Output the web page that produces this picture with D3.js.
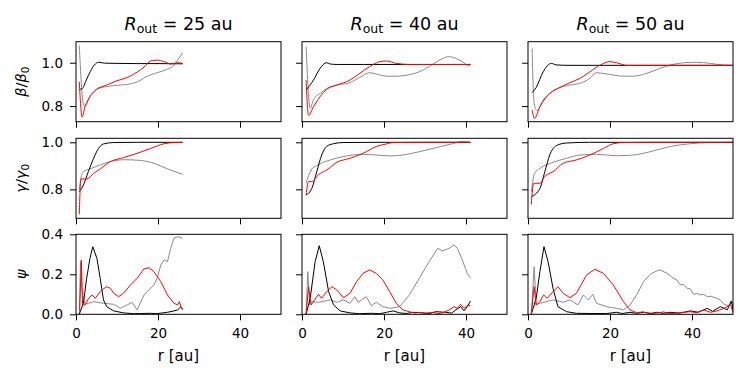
<!DOCTYPE html>
<html>
<head>
<meta charset="utf-8">
<script src="https://cdn.jsdelivr.net/npm/d3@7"></script>
<style>
  body { margin: 0; background: #fff; }
  svg { display: block; font-family: "DejaVu Sans", sans-serif; }
</style>
</head>
<body>
<svg id="chart" width="748" height="379"></svg>
<script>
// panel titles (R_out values) and axis ticks
const routValues = ["25", "40", "50"];
const xTicks = [0, 20, 40];
const betaTicks = [0.8, 1.0];
const gammaTicks = [0.8, 1.0];
const psiTicks = [0.0, 0.2, 0.4];

// beta / beta0, [r, value]
const beta25Black = [[0.8,0.877],[1.5,0.88],[2.5,0.92],[3.5,0.96],[4.5,0.99],[5.5,1.002],[7,0.998],[10,0.997],[15,0.996],[20,0.996],[26,0.995]];
const beta25Gray = [[0.8,1.08],[1.8,0.81],[2.2,0.80],[3.4,0.843],[5,0.877],[7.5,0.89],[10.8,0.897],[12.5,0.9],[15,0.912],[17.4,0.938],[19.8,0.954],[22.3,0.97],[23.5,0.982],[24.8,1.012],[26,1.046]];
const beta25Red = [[0.8,0.912],[1.5,0.75],[2.2,0.797],[3.4,0.843],[5,0.877],[7.5,0.897],[10,0.917],[12.5,0.932],[15,0.958],[16.6,0.98],[18.2,1.008],[19.8,1.012],[21.5,1.005],[23.1,0.994],[24.8,1.0],[26,0.997]];

const beta40Black = [[1,0.874],[2.8,0.92],[4.4,0.974],[6,1.0],[6.9,0.994],[8.5,0.992],[15,0.992],[25,0.992],[35,0.992],[41.1,0.992]];
const beta40Gray = [[1,1.074],[2,0.79],[2.8,0.83],[4.4,0.858],[6,0.88],[8.5,0.897],[11.7,0.908],[14.1,0.932],[16.5,0.954],[18.1,0.948],[20.6,0.938],[23,0.938],[26.2,0.945],[28.6,0.958],[31,0.982],[33.5,1.012],[35.9,1.028],[37.5,1.02],[39.1,1.005],[40.7,0.985],[41.1,0.988]];
const beta40Red = [[1,0.92],[1.6,0.758],[2.8,0.797],[4.4,0.843],[6,0.877],[8.5,0.897],[11.7,0.92],[14.1,0.951],[16.5,0.982],[19,1.005],[20.6,1.008],[23,0.997],[26.2,0.992],[30,0.992],[35,0.992],[41.1,0.992]];

const beta50Black = [[1,0.862],[2,0.886],[3.7,0.958],[5.7,0.997],[6.9,0.99],[10,0.988],[20,0.988],[30,0.988],[40,0.988],[50,0.988]];
const beta50Gray = [[1,1.066],[1.5,0.812],[2.2,0.78],[3.7,0.828],[5.3,0.858],[7.8,0.886],[10.2,0.897],[12.7,0.905],[15.1,0.928],[16.7,0.954],[19.2,0.948],[23.3,0.938],[25.7,0.938],[29,0.951],[32.2,0.974],[34.7,0.989],[38,1.0],[41.2,1.002],[44.5,0.997],[47.8,0.989],[50,0.988]];
const beta50Red = [[1,0.782],[1.6,0.743],[2.9,0.797],[5.3,0.858],[7.8,0.886],[10.2,0.908],[12.7,0.928],[15.1,0.958],[17.6,0.989],[20,1.005],[21.6,1.0],[24.1,0.988],[30,0.988],[40,0.988],[50,0.988]];

// gamma / gamma0
const gamma25Black = [[0.8,0.79],[1.8,0.818],[3,0.875],[4.3,0.932],[5.5,0.974],[6.7,0.993],[9.2,0.999],[15,1.0],[26,1.0]];
const gamma25Gray = [[0.8,0.797],[1.2,0.847],[1.8,0.875],[3.4,0.887],[5.9,0.904],[8.4,0.918],[11.6,0.926],[15.7,0.923],[19,0.911],[22.3,0.887],[26,0.864]];
const gamma25Red = [[0.8,0.694],[1.2,0.844],[2.6,0.844],[4.3,0.868],[5.9,0.887],[8.4,0.918],[11.6,0.935],[14.9,0.953],[18.2,0.974],[21.5,0.994],[23.9,0.999],[26,1.0]];

const gamma40Black = [[1,0.776],[2.4,0.804],[3.6,0.875],[4.8,0.946],[6,0.982],[7.7,0.994],[10,0.999],[20,1.0],[41.1,1.0]];
const gamma40Gray = [[1,0.826],[2.2,0.882],[3.6,0.901],[6.9,0.925],[10,0.939],[14.9,0.949],[18.1,0.946],[21.4,0.942],[24.6,0.946],[28.6,0.96],[32.7,0.977],[36.7,0.994],[39.1,1.003],[41.1,1.0]];
const gamma40Red = [[1,0.776],[1.6,0.833],[2.4,0.833],[4,0.862],[6,0.882],[8.5,0.915],[11.7,0.932],[14.9,0.953],[18.1,0.982],[20.6,0.993],[22.2,0.999],[30,1.0],[41.1,1.0]];

const gamma50Black = [[0.8,0.769],[2.9,0.804],[4.1,0.875],[5.3,0.946],[6.9,0.986],[9.4,0.997],[15,1.0],[50,1.0]];
const gamma50Gray = [[0.8,0.79],[1.6,0.868],[2.9,0.889],[6.1,0.915],[9.4,0.932],[12.7,0.946],[16.7,0.949],[21.6,0.943],[25.7,0.946],[29.8,0.96],[34.7,0.982],[39.6,0.994],[44.5,0.999],[50,1.0]];
const gamma50Red = [[0.8,0.736],[1.4,0.826],[2.9,0.826],[4.1,0.855],[6.1,0.875],[8.6,0.911],[11.8,0.925],[15.1,0.946],[18.4,0.974],[20.8,0.994],[23.3,0.999],[30,1.0],[50,1.0]];

// psi
const psi25Black = [[0.8,0],[1.8,0.055],[2.6,0.18],[3.4,0.28],[4.1,0.338],[5.1,0.28],[5.9,0.18],[6.7,0.072],[7.5,0.038],[9.2,0.017],[11.6,0.007],[14.1,0.003],[16,0.004],[18.2,0.005],[19.5,0.003],[20.7,0.006],[22.3,0.01],[23.9,0.017],[24.8,0.022],[25.6,0.038],[26,0.025]];
const psi25Gray = [[0.8,0],[1.1,0.263],[1.5,0.113],[2.2,0.05],[4.3,0.063],[6.7,0.055],[9.2,0.05],[10.8,0.03],[12.5,0.047],[13.7,0.06],[14.9,0.022],[16.6,0.097],[19,0.147],[19.8,0.18],[20.7,0.247],[21.5,0.272],[22.3,0.263],[23.1,0.33],[23.9,0.38],[24.8,0.388],[26,0.38]];
const psi25Red = [[0.9,0.02],[1.3,0.272],[1.6,0.047],[2.2,0.047],[3,0.077],[3.9,0.097],[4.7,0.08],[5.9,0.113],[7.4,0.138],[8.4,0.13],[9.2,0.105],[10.4,0.088],[11.6,0.105],[13.3,0.147],[14.9,0.18],[16.6,0.227],[17.8,0.233],[19,0.213],[20.7,0.163],[22.3,0.097],[23.9,0.055],[24.8,0.047],[25.2,0.063],[25.6,0.038],[26,0.022]];

const psi40Black = [[1,0],[2,0.08],[3.2,0.263],[4.2,0.343],[5.2,0.263],[6.5,0.113],[7.7,0.047],[9.3,0.017],[11.7,0.007],[14,0.003],[17,0.005],[19,0.003],[20.6,0.01],[22.2,0.017],[23.8,0.007],[25.5,0.004],[27,0.01],[29.4,0.007],[31,0.004],[32.7,0.013],[35,0.01],[36.5,0.006],[37.5,0.022],[38.7,0.038],[39.5,0.017],[40.3,0.038],[41.1,0.067]];
const psi40Gray = [[1,0],[1.4,0.213],[1.9,0.047],[2.4,0.063],[4,0.06],[6.9,0.072],[8.5,0.06],[10.1,0.072],[11.7,0.055],[12.9,0.088],[13.7,0.06],[14.5,0.072],[15.7,0.088],[16.9,0.043],[18.1,0.06],[19.8,0.038],[21.4,0.03],[23.8,0.038],[26.2,0.097],[28.6,0.18],[31,0.263],[33.1,0.33],[34.3,0.317],[35.9,0.33],[37.1,0.347],[37.9,0.33],[39.1,0.272],[40.3,0.205],[41.1,0.183]];
const psi40Red = [[1,0],[1.6,0.138],[2.2,0.047],[2.8,0.063],[4,0.1],[4.8,0.08],[6,0.113],[7.3,0.138],[8.5,0.122],[10.1,0.083],[11.7,0.105],[13.3,0.163],[14.9,0.205],[16.5,0.222],[18.1,0.205],[19.7,0.172],[21.4,0.113],[23,0.055],[24.6,0.022],[26.2,0.013],[27.5,0.006],[28.6,0.01],[30,0.005],[31.9,0.01],[33,0.004],[34.3,0.007],[35.9,0.022],[37.1,0.038],[37.9,0.03],[38.7,0.05],[39.5,0.03],[40.3,0.043],[41.1,0.043]];

const psi50Black = [[0.8,0],[2,0.08],[2.9,0.213],[3.9,0.338],[4.9,0.263],[6.1,0.13],[7.3,0.038],[9.4,0.013],[11.8,0.005],[15.1,0.004],[19.2,0.004],[21.6,0.01],[23,0.004],[24.9,0.01],[26.5,0.005],[28.2,0.01],[30,0.004],[31.4,0.01],[33,0.005],[34.7,0.01],[37,0.006],[39.6,0.017],[41.5,0.01],[43.7,0.03],[45,0.015],[46.9,0.038],[48.6,0.022],[49.6,0.067],[50,0.022]];
const psi50Gray = [[0.8,0],[1.5,0.238],[2,0.047],[2.9,0.055],[6.1,0.072],[8.6,0.06],[10.2,0.072],[12.2,0.047],[13.5,0.097],[14.7,0.072],[15.8,0.1],[16.7,0.055],[19.2,0.038],[21.6,0.03],[23.3,0.022],[24.9,0.047],[26.5,0.097],[28.2,0.163],[29.8,0.2],[31.4,0.217],[32.2,0.222],[33.9,0.205],[35.5,0.18],[36.3,0.172],[37.1,0.147],[37.9,0.15],[38.8,0.13],[39.6,0.127],[40.4,0.1],[41.2,0.105],[42,0.097],[42.8,0.1],[43.7,0.088],[44.5,0.09],[46.1,0.08],[47,0.07],[47.8,0.05],[49,0.043],[49.6,0.063],[50,0.045]];
const psi50Red = [[0.8,0],[1.5,0.138],[2,0.047],[2.9,0.063],[3.8,0.097],[4.7,0.08],[6.1,0.113],[7.3,0.138],[8.6,0.105],[10.2,0.083],[11.8,0.105],[14.3,0.197],[16.3,0.225],[18.4,0.205],[20.8,0.147],[23.3,0.063],[24.9,0.022],[26.5,0.008],[28,0.012],[29.5,0.005],[31.4,0.006],[33,0.012],[34.5,0.004],[36.3,0.006],[38,0.01],[39.6,0.013],[41,0.008],[42.9,0.022],[44.5,0.01],[46.1,0.017],[47.8,0.03],[49.4,0.047],[50,0.01]];

const seriesColors = { gray: "#8a8a8a", black: "#000000", red: "#ff0000" };

const grid = [
  [[beta25Gray, beta25Black, beta25Red], [beta40Gray, beta40Black, beta40Red], [beta50Gray, beta50Black, beta50Red]],
  [[gamma25Gray, gamma25Black, gamma25Red], [gamma40Gray, gamma40Black, gamma40Red], [gamma50Gray, gamma50Black, gamma50Red]],
  [[psi25Gray, psi25Black, psi25Red], [psi40Gray, psi40Black, psi40Red], [psi50Gray, psi50Black, psi50Red]]
];
const colorOrder = ["gray", "black", "red"];

const svg = d3.select("#chart");
svg.append("rect").attr("width", 748).attr("height", 379).attr("fill", "#fff");

const colX = [76, 302, 528], panelW = 205;
const rowY = [41.7, 138.3, 234.3], panelH = 80;
const yDomains = [[0.728, 1.097], [0.677, 1.017], [0, 0.4]];
const yTickSets = [betaTicks, gammaTicks, psiTicks];
const tickFont = 13.5;

grid.forEach((rowSeries, ri) => {
  rowSeries.forEach((panelSeries, ci) => {
    const x = d3.scaleLinear().domain([0, 50]).range([0, panelW]);
    const y = d3.scaleLinear().domain(yDomains[ri]).range([panelH, 0]);
    const g = svg.append("g").attr("transform", `translate(${colX[ci]},${rowY[ri]})`);

    const clipId = `clip-${ri}-${ci}`;
    g.append("clipPath").attr("id", clipId)
      .append("rect").attr("width", panelW).attr("height", panelH);

    const line = d3.line()
      .x(d => x(d[0]))
      .y(d => y(d[1]))
      .curve(ri < 2 ? d3.curveMonotoneX : d3.curveLinear);

    panelSeries.forEach((data, si) => {
      g.append("path")
        .datum(data)
        .attr("clip-path", `url(#${clipId})`)
        .attr("fill", "none")
        .attr("stroke", seriesColors[colorOrder[si]])
        .attr("stroke-width", 1)
        .attr("stroke-linejoin", "round")
        .attr("d", line);
    });

    // x axis
    const xAxis = d3.axisBottom(x).tickValues(xTicks).tickSize(6).tickPadding(8)
      .tickFormat(ri === 2 ? d3.format("d") : () => "");
    const xg = g.append("g").attr("transform", `translate(0,${panelH})`).call(xAxis);
    xg.select(".domain").remove();
    xg.selectAll("text").attr("font-size", tickFont).attr("font-family", "DejaVu Sans").attr("fill", "#000");

    // y axis
    const yAxis = d3.axisLeft(y).tickValues(yTickSets[ri]).tickSize(6).tickPadding(7)
      .tickFormat(ci === 0 ? d3.format(".1f") : () => "");
    const yg = g.append("g").call(yAxis);
    yg.select(".domain").remove();
    yg.selectAll("text").attr("font-size", tickFont).attr("font-family", "DejaVu Sans").attr("fill", "#000");

    g.append("rect")
      .attr("width", panelW).attr("height", panelH)
      .attr("fill", "none").attr("stroke", "#000").attr("stroke-width", 1);
  });
});

// column titles
routValues.forEach((v, ci) => {
  const t = svg.append("text")
    .attr("x", colX[ci] + panelW / 2).attr("y", 30)
    .attr("text-anchor", "middle").attr("font-size", 17.5);
  t.append("tspan").attr("font-style", "italic").text("R");
  t.append("tspan").attr("font-size", 12.5).attr("dy", 3).text("out");
  t.append("tspan").attr("dy", -3).text(` = ${v} au`);
});

// x labels
colX.forEach(cx => {
  svg.append("text")
    .attr("x", cx + panelW / 2).attr("y", 361)
    .attr("text-anchor", "middle").attr("font-size", 15)
    .text("r [au]");
});

// y labels
const yLabelParts = [["β", "β", "0"], ["γ", "γ", "0"], ["ψ"]];
yLabelParts.forEach((parts, ri) => {
  const cy = rowY[ri] + panelH / 2;
  const t = svg.append("text")
    .attr("transform", `translate(26,${cy}) rotate(-90)`)
    .attr("text-anchor", "middle").attr("font-size", 14.5);
  t.append("tspan").attr("font-style", "italic").text(parts[0]);
  if (parts.length > 1) {
    t.append("tspan").text("/");
    t.append("tspan").attr("font-style", "italic").text(parts[1]);
    t.append("tspan").attr("font-size", 10.5).attr("dy", 3).text(parts[2]);
  }
});
</script>
</body>
</html>
